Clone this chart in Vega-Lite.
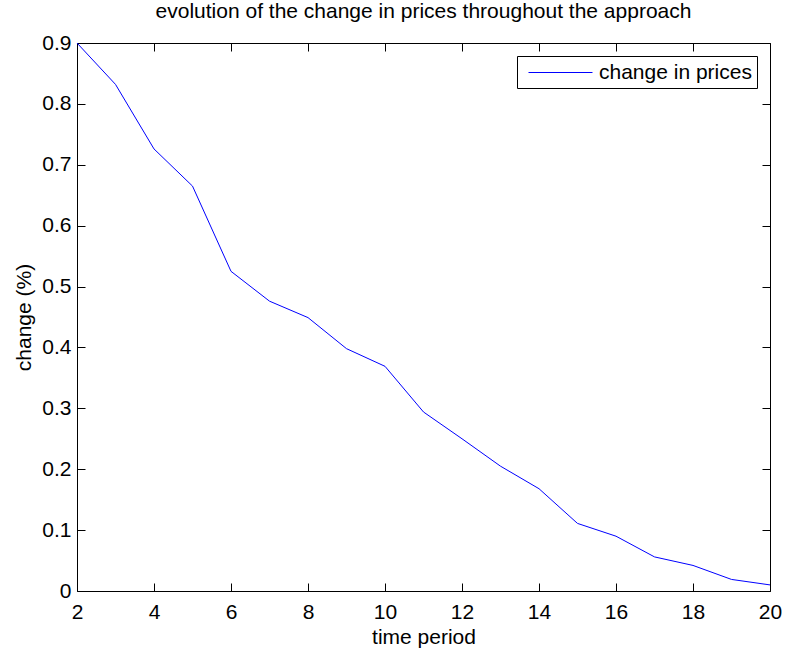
{
  "$schema": "https://vega.github.io/schema/vega-lite/v6.json",
  "autosize": "none",
  "width": 693,
  "height": 548,
  "padding": {"left": 77, "top": 43, "right": 16, "bottom": 61},
  "background": "white",
  "config": {
    "font": "Liberation Sans",
    "view": {"stroke": "black", "strokeWidth": 1},
    "axis": {"grid": false, "domain": false, "labelColor": "black", "titleColor": "black", "tickColor": "black", "labelFontSize": 21, "titleFontSize": 21, "titleFontWeight": "normal", "tickSize": -8, "tickWidth": 1}
  },
  "title": {"text": "evolution of the change in prices throughout the approach", "fontSize": 21, "fontWeight": "normal", "color": "black", "anchor": "middle", "offset": 10},
  "data": {"values": [
    {"t": 2, "v": 0.9, "s": "change in prices"},
    {"t": 3, "v": 0.832, "s": "change in prices"},
    {"t": 4, "v": 0.726, "s": "change in prices"},
    {"t": 5, "v": 0.665, "s": "change in prices"},
    {"t": 6, "v": 0.525, "s": "change in prices"},
    {"t": 7, "v": 0.476, "s": "change in prices"},
    {"t": 8, "v": 0.449, "s": "change in prices"},
    {"t": 9, "v": 0.398, "s": "change in prices"},
    {"t": 10, "v": 0.369, "s": "change in prices"},
    {"t": 11, "v": 0.294, "s": "change in prices"},
    {"t": 12, "v": 0.25, "s": "change in prices"},
    {"t": 13, "v": 0.205, "s": "change in prices"},
    {"t": 14, "v": 0.168, "s": "change in prices"},
    {"t": 15, "v": 0.111, "s": "change in prices"},
    {"t": 16, "v": 0.09, "s": "change in prices"},
    {"t": 17, "v": 0.056, "s": "change in prices"},
    {"t": 18, "v": 0.042, "s": "change in prices"},
    {"t": 19, "v": 0.019, "s": "change in prices"},
    {"t": 20, "v": 0.01, "s": "change in prices"}
  ]},
  "layer": [
    {
      "mark": {"type": "line", "strokeWidth": 1},
      "encoding": {
        "x": {"field": "t", "type": "quantitative", "scale": {"domain": [2, 20], "nice": false, "zero": false}, "axis": {"orient": "bottom", "values": [2, 4, 6, 8, 10, 12, 14, 16, 18, 20], "labelPadding": 18, "title": "time period", "titlePadding": 4, "labelFlush": false}},
        "y": {"field": "v", "type": "quantitative", "scale": {"domain": [0, 0.9], "nice": false}, "axis": {"orient": "left", "values": [0, 0.1, 0.2, 0.3, 0.4, 0.5, 0.6, 0.7, 0.8, 0.9], "format": ".1~f", "labelPadding": 14, "title": "change (%)", "titlePadding": 7, "labelFlush": false}},
        "color": {"field": "s", "type": "nominal", "scale": {"range": ["#0000ff"]}, "legend": {"title": null, "orient": "top-right", "offset": 13, "fillColor": "white", "strokeColor": "black", "padding": 5, "cornerRadius": 0, "symbolType": "M-3,0H3", "symbolSize": 455, "symbolStrokeWidth": 1, "symbolStrokeColor": "#0000ff", "symbolOffset": 27, "labelOffset": 27, "labelFontSize": 21, "labelColor": "black", "labelLimit": 400, "labelExpr": "datum.label + ' '"}}
      }
    },
    {
      "mark": {"type": "line", "strokeWidth": 1, "strokeOpacity": 0},
      "encoding": {
        "x": {"field": "t", "type": "quantitative", "axis": {"orient": "top", "values": [2, 4, 6, 8, 10, 12, 14, 16, 18, 20], "labels": false, "title": null}},
        "y": {"field": "v", "type": "quantitative", "axis": {"orient": "right", "values": [0, 0.1, 0.2, 0.3, 0.4, 0.5, 0.6, 0.7, 0.8, 0.9], "labels": false, "title": null}}
      }
    }
  ],
  "resolve": {"axis": {"x": "independent", "y": "independent"}}
}
